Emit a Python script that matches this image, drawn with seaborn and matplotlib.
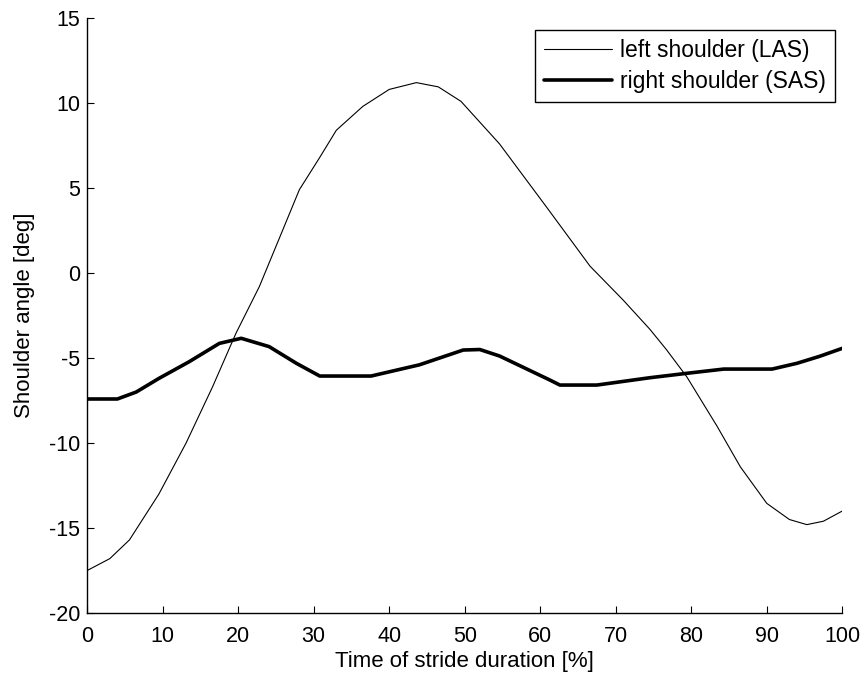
import seaborn as sns
import matplotlib.pyplot as plt
import pandas as pd

# stride percent / shoulder angle
las_x = [0, 3, 5.6, 9.5, 13.1, 16.6, 19.7, 22.8, 25.5, 28.1, 30.8, 33, 36.5, 40, 43.6, 46.5,
         49.5, 54.6, 60.8, 66.6, 71, 74.5, 76.7, 79.4, 83.4, 86.5, 90, 93, 95.3, 97.5, 100]
las_y = [-17.5, -16.8, -15.7, -13.0, -10.0, -6.7, -3.55, -0.8, 2.1, 4.9, 6.8, 8.4, 9.8, 10.8, 11.2, 10.95,
         10.1, 7.6, 3.9, 0.4, -1.6, -3.3, -4.5, -6.1, -9.0, -11.4, -13.55, -14.5, -14.8, -14.6, -14.0]

sas_x = [0, 4, 6.5, 9.5, 13.5, 17.5, 20.4, 24.1, 27.7, 30.8, 37.6, 44, 49.8, 52, 54.6, 58,
         61.3, 62.6, 67.5, 74.5, 79.4, 84.3, 90.7, 94, 97, 100]
sas_y = [-7.41, -7.41, -7.0, -6.2, -5.22, -4.14, -3.84, -4.33, -5.31, -6.06, -6.06, -5.4, -4.53, -4.5, -4.88, -5.6,
         -6.3, -6.59, -6.59, -6.16, -5.9, -5.65, -5.65, -5.31, -4.9, -4.43]

labels = ['left shoulder (LAS)', 'right shoulder (SAS)']

sns.set_style("ticks")
plt.rcParams['font.family'] = ['Liberation Sans', 'DejaVu Sans']
plt.rcParams['axes.unicode_minus'] = False
plt.rcParams['text.color'] = 'black'
plt.rcParams['axes.labelcolor'] = 'black'
fs = 15.5

df_las = pd.DataFrame({'x': las_x, 'y': las_y})
df_sas = pd.DataFrame({'x': sas_x, 'y': sas_y})

fig = plt.figure(figsize=(8.63, 6.80), dpi=100)
ax = fig.add_axes([0.101, 0.0985, 0.875, 0.875])

sns.lineplot(data=df_las, x='x', y='y', ax=ax, color='black', linewidth=0.8, label=labels[0], sort=False)
sns.lineplot(data=df_sas, x='x', y='y', ax=ax, color='black', linewidth=2.6, label=labels[1], sort=False)

ax.set_xlim(0, 100)
ax.set_ylim(-20, 15)
ax.set_xticks(range(0, 101, 10))
ax.set_yticks(range(-20, 16, 5))
ax.tick_params(direction='in', length=5, labelsize=fs, colors='black', labelcolor='black')
ax.tick_params(axis='x', pad=9)
ax.tick_params(axis='y', pad=5)
ax.spines['top'].set_visible(False)
ax.spines['right'].set_visible(False)
for s in ['left', 'bottom']:
    ax.spines[s].set_linewidth(1.0)
    ax.spines[s].set_color('black')

ax.set_xlabel('Time of stride duration [%]', fontsize=16, labelpad=3)
ax.set_ylabel('Shoulder angle [deg]', fontsize=16, labelpad=10)

leg = ax.legend(loc='upper right', bbox_to_anchor=(0.991, 0.98), borderaxespad=0, fontsize=16.5,
                fancybox=False, framealpha=1, edgecolor='black', handlelength=3.0, handletextpad=0.35,
                borderpad=0.4, labelspacing=0.35)
leg.get_frame().set_linewidth(1.0)
for t in leg.get_texts():
    t.set_color('black')

fig.savefig('out.png', dpi=100)
